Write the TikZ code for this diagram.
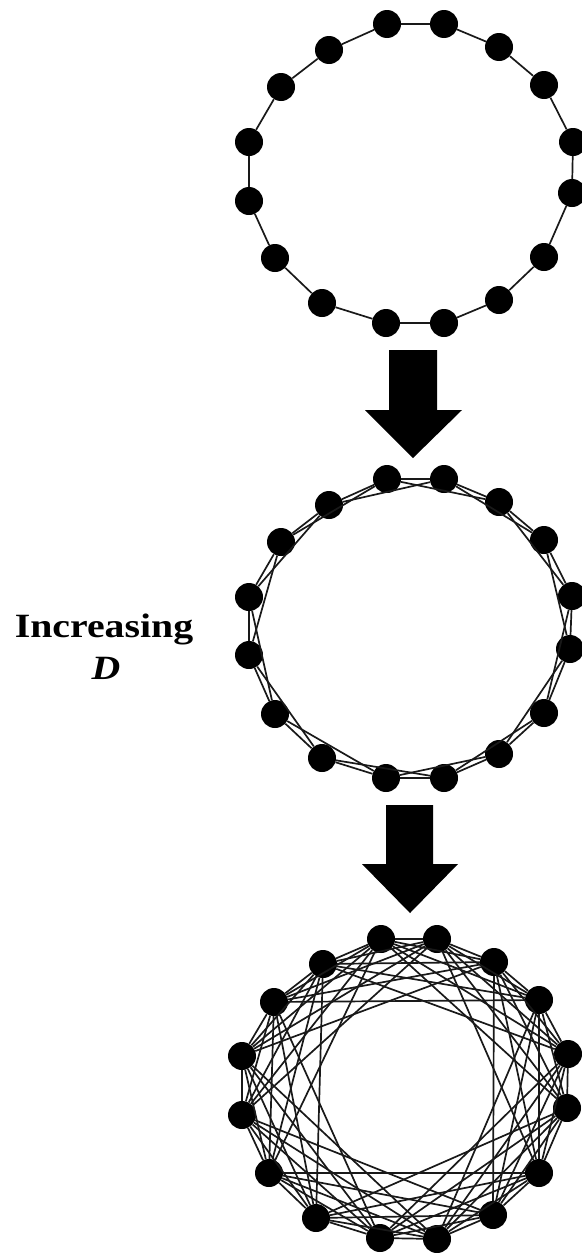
\documentclass[tikz,border=0pt]{standalone}
\usepackage{fontspec}
\setmainfont{Liberation Serif}
\begin{document}
\begin{tikzpicture}[x=1pt,y=-1pt,
  vertex/.style={circle,fill=black,inner sep=0pt,minimum size=28pt},
  link/.style={line width=1.7pt,black!90},
  bigarrow/.style={fill=black,draw=none},
  label/.style={font=\fontsize{34}{40}\selectfont\bfseries,inner sep=0pt,anchor=base}]
\useasboundingbox (0,0) rectangle (581,1253);
% ring 1 (D = 1)
\foreach \p [count=\i from 0] in {(387,24),(444,24),(499,47),(544,85),(573,142),(572,193),(544,257),(499,300),(444,323),(386,323),(322,303),(275,258),(249,201),(249,142),(281,87),(329,50)}
  \node[vertex] (a\i) at \p {};
% ring 2 (D = 2)
\foreach \p [count=\i from 0] in {(387,479),(444,479),(499,502),(544,540),(572,596),(570,649),(544,713),(499,754),(444,778),(386,778),(322,758),(275,714),(249,655),(249,597),(281,542),(329,505)}
  \node[vertex] (b\i) at \p {};
% ring 3 (D = 5)
\foreach \p [count=\i from 0] in {(381,939),(437,939),(494,962),(539,1000),(568,1054),(567,1108),(539,1173),(493,1215),(437,1239),(380,1238),(316,1218),(269,1173),(242,1115),(242,1056),(274,1002),(323,964)}
  \node[vertex] (c\i) at \p {};
\foreach \nm/\D in {a/1,b/2,c/5}{
  \foreach \k in {0,...,15}{
    \foreach \d in {1,...,\D}{
      \pgfmathtruncatemacro{\j}{mod(\k+\d,16)}
      \draw[link] (\nm\k) -- (\nm\j);
    }
  }
}
% arrows
\fill[bigarrow] (389,350) -- (437,350) -- (437,410) -- (462,410) -- (413,458) -- (365,410) -- (389,410) -- cycle;
\fill[bigarrow] (386,805) -- (433,805) -- (433,864) -- (458,864) -- (410,913) -- (362,864) -- (386,864) -- cycle;
% label
\node[label] (inc) at (104,637) {\scalebox{1.17}[1]{Increasing}};
\node[label] (dd) at (106,679) {\scalebox{1.17}[1]{\itshape D}};
\end{tikzpicture}
\end{document}
